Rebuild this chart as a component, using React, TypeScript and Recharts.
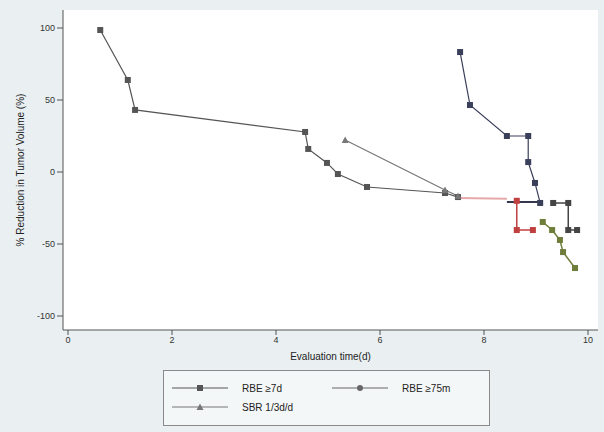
import React from "react";
import { LineChart, Line, XAxis, YAxis, CartesianGrid, Legend } from "recharts";

// Series A (squares)
const xA = [0.62, 1.15, 1.29, 4.56, 4.62, 4.98, 5.19, 5.75, 7.25, 7.5];
const yA = [98.6, 63.9, 43.1, 27.8, 16.0, 6.3, -1.4, -10.4, -14.6, -17.4];
// Series B (triangles)
const xB = [5.33, 7.25, 7.5];
const yB = [22.2, -12.5, -16.7];
// Series C
const xC = [7.54, 7.73, 8.44, 8.85, 8.85, 8.98, 9.08];
const yC = [83.3, 46.5, 25, 25, 6.9, -7.6, -21.5];
// extra step segments
const xP = [7.5, 8.44];
const yP = [-18, -18.5];
const xN = [8.44, 9.08];
const yN = [-20.8, -20.8];
const xR = [8.63, 8.63, 8.94];
const yR = [-20, -40.3, -40.3];
const xD = [9.33, 9.62, 9.62, 9.79];
const yD = [-21.5, -21.5, -40.3, -40.3];
const xG = [9.13, 9.31, 9.46, 9.52, 9.75];
const yG = [-34.7, -40.3, -47.2, -55.6, -66.7];

const xTicks = [0, 2, 4, 6, 8, 10];
const yTicks = [-100, -50, 0, 50, 100];
const legendLabels = ["RBE ≥7d", "RBE ≥75m", "SBR 1/3d/d"];
const xTitle = "Evaluation time(d)";
const yTitle = "% Reduction in Tumor Volume (%)";

const zip = (xs: number[], ys: number[]) => xs.map((x, i) => ({ x, y: ys[i] }));
const dA = zip(xA, yA);
const dB = zip(xB, yB);
const dC = zip(xC, yC);
const dP = zip(xP, yP);
const dN = zip(xN, yN);
const dR = zip(xR, yR);
const dD = zip(xD, yD);
const dG = zip(xG, yG);

const FONT = "'Liberation Sans', Arial, sans-serif";

const Square = (color: string) => (p: any) => {
  if (p.cx == null || p.cy == null) return null;
  return <rect key={`s${p.index}`} x={p.cx - 3} y={p.cy - 3} width={6} height={6} fill={color} />;
};
const Tri = (color: string) => (p: any) => {
  if (p.cx == null || p.cy == null) return null;
  return (
    <path key={`t${p.index}`} d={`M${p.cx},${p.cy - 3.5} L${p.cx + 3.5},${p.cy + 3} L${p.cx - 3.5},${p.cy + 3} Z`} fill={color} />
  );
};

const LegendBox = () => {
  const item = (label: string, kind: string, color: string) => (
    <div style={{ display: "flex", alignItems: "center", height: 18 }}>
      <svg width={60} height={10}>
        <line x1={2} y1={5} x2={58} y2={5} stroke={color} strokeWidth={1} />
        {kind === "s" && <rect x={27} y={2} width={6} height={6} fill={color} />}
        {kind === "c" && <circle cx={30} cy={5} r={3} fill={color} />}
        {kind === "t" && <path d="M30,1.5 L33.5,8 L26.5,8 Z" fill={color} />}
      </svg>
      <span style={{ marginLeft: 12, fontSize: 10, color: "#222", fontFamily: FONT }}>{label}</span>
    </div>
  );
  return (
    <div
      style={{
        marginLeft: 163,
        width: 327,
        height: 56,
        border: "1px solid #8a8a8a",
        boxSizing: "border-box",
        background: "#f4f7f8",
        padding: "8px 6px",
        display: "grid",
        gridTemplateColumns: "160px 160px",
        rowGap: 0,
      }}
    >
      {item(legendLabels[0], "s", "#555")}
      {item(legendLabels[1], "c", "#666")}
      {item(legendLabels[2], "t", "#777")}
    </div>
  );
};

export default function App() {
  return (
    <div style={{ position: "fixed", left: 0, top: 0, width: 604, height: 432, background: "#eaf0f2" }}>
      <LineChart width={604} height={432} margin={{ top: 10, right: 6, left: 0, bottom: 0 }}>
        <CartesianGrid fill="#ffffff" stroke="none" horizontal={false} vertical={false} />
        <XAxis
          type="number"
          dataKey="x"
          domain={[-0.096, 10.192]}
          ticks={xTicks}
          allowDataOverflow
          height={40}
          stroke="#555"
          tickSize={5}
          tick={{ fontSize: 9, fill: "#333", fontFamily: FONT }}
          label={{ value: xTitle, position: "insideBottom", offset: 10, fontSize: 10, fill: "#222", fontFamily: FONT }}
        />
        <YAxis
          type="number"
          dataKey="y"
          domain={[-109.72, 112.5]}
          ticks={yTicks}
          allowDataOverflow
          width={63}
          stroke="#555"
          tickSize={6}
          tick={{ fontSize: 9, fill: "#333", fontFamily: FONT }}
          label={{ value: yTitle, angle: -90, position: "insideLeft", offset: 20, fontSize: 10, fill: "#222", fontFamily: FONT, style: { textAnchor: "middle" } }}
        />
        <Legend verticalAlign="bottom" align="left" height={62} content={() => <LegendBox />} />
        <Line data={dP} dataKey="y" stroke="#e6a8a8" strokeWidth={2} dot={false} isAnimationActive={false} legendType="none" />
        <Line data={dA} dataKey="y" stroke="#555" strokeWidth={1.2} dot={Square("#555")} isAnimationActive={false} name={legendLabels[0]} />
        <Line data={dB} dataKey="y" stroke="#777" strokeWidth={1.2} dot={Tri("#777")} isAnimationActive={false} name={legendLabels[2]} />
        <Line data={dC} dataKey="y" stroke="#3a3f5a" strokeWidth={1.2} dot={Square("#3a3f5a")} isAnimationActive={false} name={legendLabels[1]} />
        <Line data={dN} dataKey="y" stroke="#33384f" strokeWidth={2} dot={false} isAnimationActive={false} legendType="none" />
        <Line data={dR} dataKey="y" stroke="#c04040" strokeWidth={1.5} dot={Square("#c04040")} isAnimationActive={false} legendType="none" />
        <Line data={dD} dataKey="y" stroke="#444" strokeWidth={1.5} dot={Square("#444")} isAnimationActive={false} legendType="none" />
        <Line data={dG} dataKey="y" stroke="#6f7d3a" strokeWidth={1.5} dot={Square("#6f7d3a")} isAnimationActive={false} legendType="none" />
      </LineChart>
    </div>
  );
}
